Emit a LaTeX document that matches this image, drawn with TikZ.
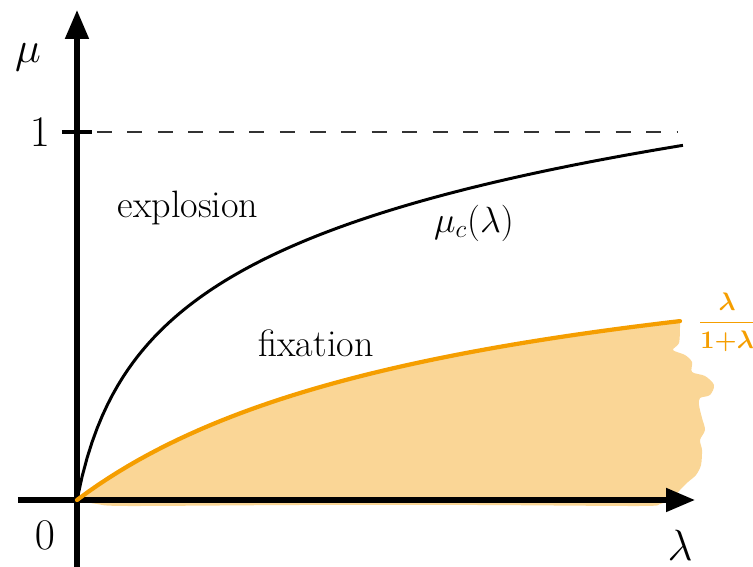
\documentclass[tikz,border=0pt]{standalone}
\usetikzlibrary{arrows.meta}

\definecolor{curveorange}{RGB}{245,158,0}
\definecolor{fillorange}{RGB}{250,214,150}

\tikzset{
    axis/.style={line width=2.85pt, -{Triangle[length=0.58cm,width=0.46cm]}},
    regionlabel/.style={font=\fontsize{21.7}{26}\selectfont},
    axislabel/.style={font=\fontsize{28}{34}\selectfont},
}

\begin{document}
\begin{tikzpicture}
    \useasboundingbox (-1.54,-1.34) rectangle (13.52,10.0);

    % Fixation region: shaded by hand below the orange curve
    \fill[fillorange] plot[domain=0:12.06, samples=60] (\x, {5.91*\x/(7.86+\x)})
        -- plot[smooth] coordinates {(12.06,3.46) (12.04,3.14) (11.92,3.0) (12.16,2.9) (12.3,2.76) (12.3,2.56) (12.56,2.48) (12.74,2.3) (12.66,2.1) (12.46,2.04) (12.44,1.9) (12.5,1.64) (12.56,1.4) (12.46,1.2) (12.5,1.0) (12.48,0.7) (12.38,0.5) (12.22,0.36) (12.06,0.2) (11.9,0.02) (11.66,-0.08) (11.26,-0.12) (8,-0.1) (4.46,-0.1) (1,-0.12) (0.4,-0.08) (0,0)}
        -- cycle;

    % Level mu = 1
    \coordinate (one) at (0,7.36);
    \draw[dash pattern=on 0.3cm off 0.31cm, line width=0.8pt, black!80] (0.4,7.36) -- (12.02,7.36);

    % Axes
    \coordinate (O) at (0,0);
    \draw[axis] (-1.18,0) -- (12.36,0);
    \draw[axis] (0,-1.34) -- (0,9.8);
    \draw[line width=2.4pt] ([xshift=-0.3cm]one) -- ([xshift=0.3cm]one);

    % Critical curve mu_c(lambda)
    \draw[line width=1.7pt] plot[domain=0:12.12, samples=120] (\x, {2.06*ln(1+\x/0.4)});

    % Orange curve lambda/(1+lambda)
    \draw[curveorange, line width=2.4pt, line cap=round] plot[domain=0:12.06, samples=60] (\x, {5.91*\x/(7.86+\x)});

    % Labels
    \node[axislabel] (mu) at (-0.98,8.86) {$\mu$};
    \node[axislabel] (lam) at (12.06,-0.9) {$\lambda$};
    \node[axislabel] (onelabel) at (-0.74,7.36) {$1$};
    \node[axislabel] (zero) at (-0.64,-0.70) {$0$};
    \node[regionlabel] (explosion) at (2.22,5.84) {explosion};
    \node[regionlabel] (fixation) at (4.78,3.14) {fixation};
    \node[regionlabel] (muc) at (7.94,5.54) {$\mu_c(\lambda)$};
    \node[curveorange, anchor=west, inner sep=0pt, font=\fontsize{15}{18}\selectfont\boldmath] (frac) at (12.42,3.56) {$\displaystyle\frac{\lambda}{1{+}\lambda}$};
\end{tikzpicture}
\end{document}
